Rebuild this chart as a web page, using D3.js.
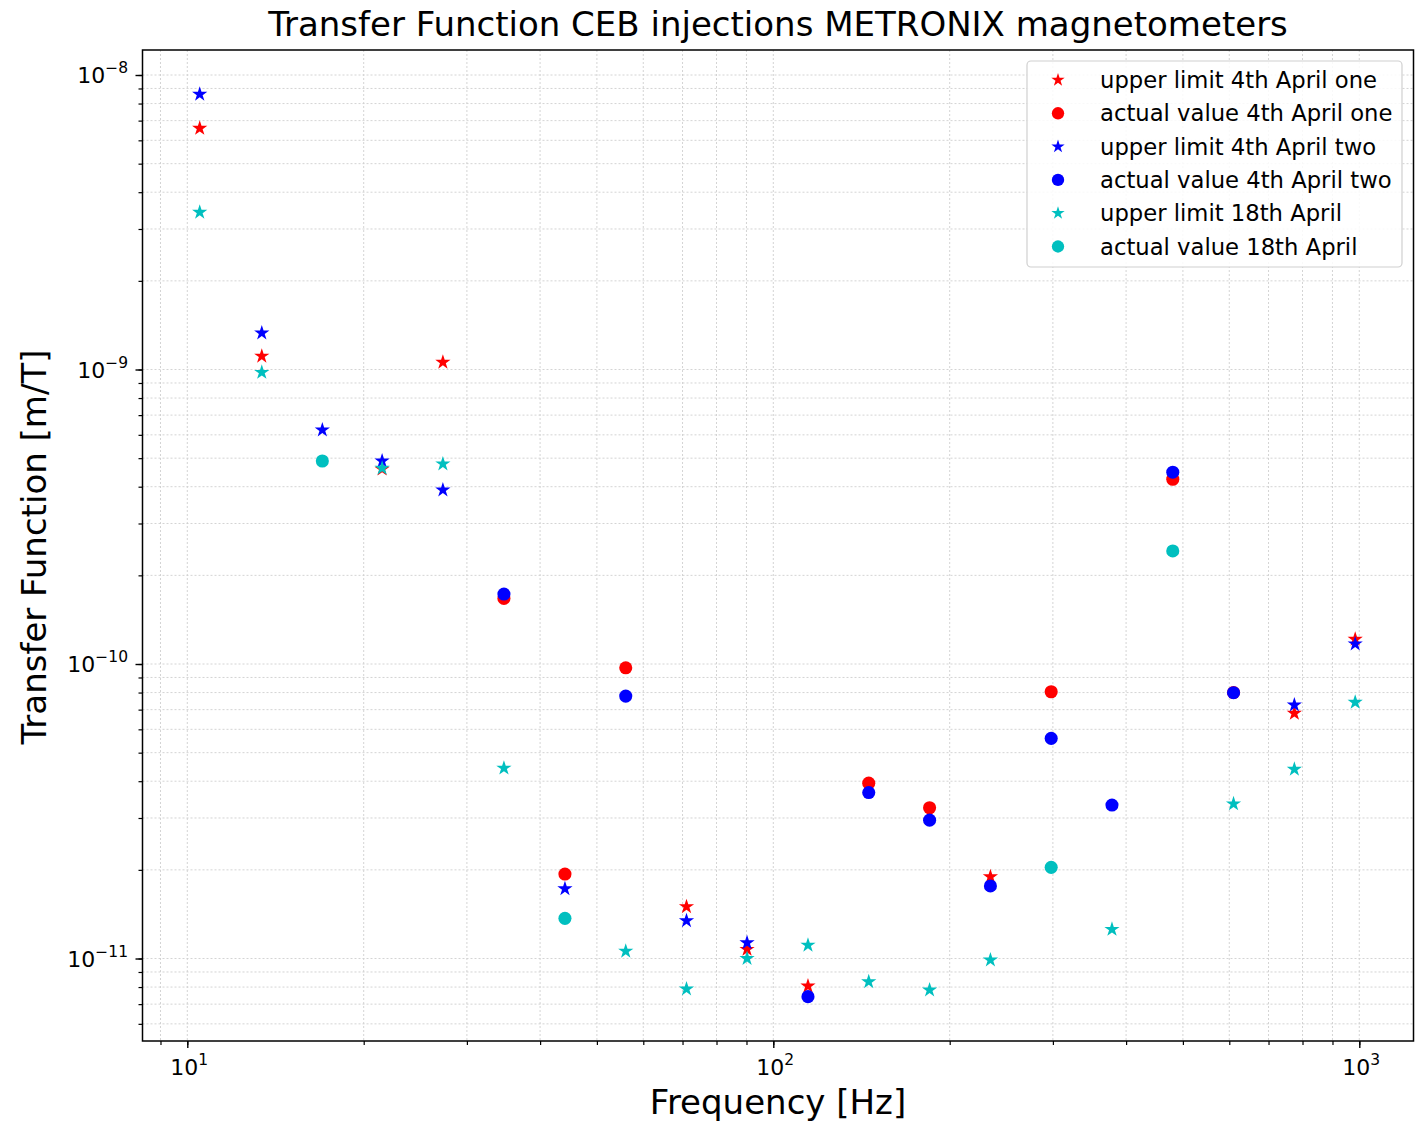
<!DOCTYPE html>
<html><head><meta charset="utf-8">
<script src="https://cdn.jsdelivr.net/npm/d3@7"></script>
<style>body{margin:0;background:#fff}svg{display:block}text{font-family:"DejaVu Sans",sans-serif;fill:#000}</style>
</head><body>
<script>
const frequencies = [10.5, 13.4, 17.0, 21.5, 27.3, 34.7, 44.1, 56.0, 71.1, 90.2, 114.6, 145.5, 184.8, 234.7, 298.0, 378.4, 480.5, 610.1, 774.8, 984.0];
const upperOne   = [6.59e-9, 1.11e-9, null, 4.59e-10, 1.058e-9, null, null, null, 1.50e-11, 1.074e-11, 8.06e-12, null, null, 1.896e-11, null, null, null, null, 6.80e-11, 1.213e-10];
const actualOne  = [null, null, null, null, null, 1.67e-10, 1.936e-11, 9.71e-11, null, null, null, 3.94e-11, 3.25e-11, null, 8.05e-11, null, 4.24e-10, 8.0e-11, null, null];
const upperTwo   = [8.6e-9, 1.33e-9, 6.23e-10, 4.89e-10, 3.90e-10, null, 1.726e-11, null, 1.344e-11, 1.131e-11, null, null, null, null, null, null, null, null, 7.26e-11, 1.17e-10];
const actualTwo  = [null, null, null, null, null, 1.728e-10, null, 7.78e-11, null, null, 7.42e-12, 3.66e-11, 2.95e-11, 1.763e-11, 5.59e-11, 3.32e-11, 4.48e-10, 7.99e-11, null, null];
const upper18    = [3.42e-9, 9.78e-10, null, 4.62e-10, 4.78e-10, 4.43e-11, null, 1.059e-11, 7.88e-12, 1.0e-11, 1.11e-11, 8.34e-12, 7.82e-12, 9.88e-12, null, 1.256e-11, null, 3.35e-11, 4.39e-11, 7.41e-11];
const actual18   = [null, null, 4.89e-10, null, null, null, 1.369e-11, null, null, null, null, null, null, null, 2.04e-11, null, 2.42e-10, null, null, null];

const seriesNames = ["upper limit 4th April one", "actual value 4th April one", "upper limit 4th April two", "actual value 4th April two", "upper limit 18th April", "actual value 18th April"];
const seriesValues = [upperOne, actualOne, upperTwo, actualTwo, upper18, actual18];
const seriesColors = ["#ff0000", "#ff0000", "#0000ff", "#0000ff", "#00bfbf", "#00bfbf"];
const seriesShapes = ["star", "circle", "star", "circle", "star", "circle"];
const xTickExps = [1, 2, 3];
const yTickExps = [-8, -9, -10, -11];

const W = 1427, H = 1122;
const m = {left: 142.5, top: 50, right: 1413.5, bottom: 1041};
const svg = d3.select("body").append("svg").attr("width", W).attr("height", H);

const x = d3.scaleLog().domain([Math.pow(10, 0.92355), Math.pow(10, 3.0925)]).range([m.left, m.right]);
const y = d3.scaleLog().domain([Math.pow(10, -11.2801), Math.pow(10, -7.9151)]).range([m.bottom, m.top]);

// grid
const xMinor = [], yMinor = [];
for (let e = 0; e <= 3; e++) for (let k = 1; k <= 9; k++) { const v = k * Math.pow(10, e); if (v >= x.domain()[0] && v <= x.domain()[1]) xMinor.push(v); }
for (let e = -12; e <= -8; e++) for (let k = 1; k <= 9; k++) { const v = k * Math.pow(10, e); if (v >= y.domain()[0] && v <= y.domain()[1]) yMinor.push(v); }
const grid = svg.append("g").attr("stroke", "#cfcfcf").attr("stroke-width", 0.9).attr("stroke-dasharray", "2,2");
grid.selectAll("line.gx").data(xMinor).join("line").attr("x1", d => x(d)).attr("x2", d => x(d)).attr("y1", m.top).attr("y2", m.bottom);
grid.selectAll("line.gy").data(yMinor).join("line").attr("y1", d => y(d)).attr("y2", d => y(d)).attr("x1", m.left).attr("x2", m.right);

// axes ticks
const xAxis = d3.axisBottom(x).tickValues(xMinor).tickSize(4).tickFormat("");
svg.append("g").attr("transform", `translate(0,${m.bottom})`).call(xAxis).call(g => { g.select(".domain").remove(); g.selectAll("line").attr("stroke", "#000").attr("stroke-width", 1.2); });
svg.append("g").attr("transform", `translate(0,${m.bottom})`).call(d3.axisBottom(x).tickValues(xTickExps.map(e => Math.pow(10, e))).tickSize(7).tickFormat(""))
  .call(g => { g.select(".domain").remove(); g.selectAll("line").attr("stroke", "#000").attr("stroke-width", 1.4); });
const yAxis = d3.axisLeft(y).tickValues(yMinor).tickSize(4).tickFormat("");
svg.append("g").attr("transform", `translate(${m.left},0)`).call(yAxis).call(g => { g.select(".domain").remove(); g.selectAll("line").attr("stroke", "#000").attr("stroke-width", 1.2); });
svg.append("g").attr("transform", `translate(${m.left},0)`).call(d3.axisLeft(y).tickValues(yTickExps.map(e => Math.pow(10, e))).tickSize(7).tickFormat(""))
  .call(g => { g.select(".domain").remove(); g.selectAll("line").attr("stroke", "#000").attr("stroke-width", 1.4); });

// tick labels
xTickExps.forEach(e => {
  const t = svg.append("text").attr("x", x(Math.pow(10, e)) + 2).attr("y", 1075).attr("text-anchor", "middle").attr("font-size", 22);
  t.append("tspan").text("10");
  t.append("tspan").attr("font-size", 15.5).attr("dy", -10).text(String(e));
});
yTickExps.forEach(e => {
  const t = svg.append("text").attr("x", 128).attr("y", y(Math.pow(10, e)) + 8).attr("text-anchor", "end").attr("font-size", 22);
  t.append("tspan").text("10");
  t.append("tspan").attr("font-size", 15.5).attr("dy", -10).text("\u2212" + Math.abs(e));
});

// frame
svg.append("rect").attr("x", m.left).attr("y", m.top).attr("width", m.right - m.left).attr("height", m.bottom - m.top)
  .attr("fill", "none").attr("stroke", "#000").attr("stroke-width", 1.5);

// markers
const star = d3.symbol().type(d3.symbolStar).size(72);
const circ = d3.symbol().type(d3.symbolCircle).size(135);
seriesValues.forEach((vals, i) => {
  const pts = frequencies.map((f, j) => ({f, v: vals[j]})).filter(d => d.v != null);
  svg.append("g").selectAll("path").data(pts).join("path")
    .attr("transform", d => `translate(${x(d.f)},${y(d.v)})`)
    .attr("d", seriesShapes[i] === "star" ? star : circ)
    .attr("fill", seriesColors[i]);
});

// legend
const lg = svg.append("g");
lg.append("rect").attr("x", 1027).attr("y", 61).attr("width", 375).attr("height", 206).attr("rx", 4)
  .attr("fill", "rgba(255,255,255,0.85)").attr("stroke", "#d0d0d0").attr("stroke-width", 1.2);
seriesNames.forEach((n, i) => {
  const cy = 80 + i * 33.3;
  lg.append("path").attr("transform", `translate(1058,${cy})`).attr("d", seriesShapes[i] === "star" ? d3.symbol().type(d3.symbolStar).size(55) : d3.symbol().type(d3.symbolCircle).size(120)).attr("fill", seriesColors[i]);
  lg.append("text").attr("x", 1100).attr("y", cy + 8).attr("font-size", 22.7).text(n);
});

// titles
svg.append("text").attr("x", (m.left + m.right) / 2).attr("y", 36).attr("text-anchor", "middle").attr("font-size", 34).text("Transfer Function CEB injections METRONIX magnetometers");
svg.append("text").attr("x", (m.left + m.right) / 2).attr("y", 1114).attr("text-anchor", "middle").attr("font-size", 34).text("Frequency [Hz]");
svg.append("text").attr("transform", `translate(46,547) rotate(-90)`).attr("text-anchor", "middle").attr("font-size", 34).text("Transfer Function [m/T]");
</script>
</body></html>
